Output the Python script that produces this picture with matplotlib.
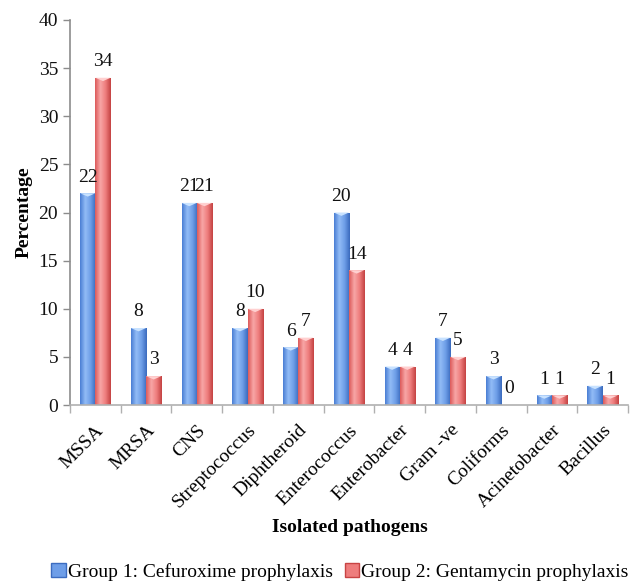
import numpy as np
import matplotlib
matplotlib.use("Agg")
import matplotlib.pyplot as plt
from matplotlib.patches import Rectangle, Polygon
from matplotlib.colors import LinearSegmentedColormap

categories = ["MSSA", "MRSA", "CNS", "Streptococcus", "Diphtheroid", "Enterococcus",
              "Enterobacter", "Gram -ve", "Coliforms", "Acinetobacter", "Bacillus"]
group1 = [22, 8, 21, 8, 6, 20, 4, 7, 3, 1, 2]
group2 = [34, 3, 21, 10, 7, 14, 4, 5, 0, 1, 1]
series_names = ["Group 1: Cefuroxime prophylaxis", "Group 2: Gentamycin prophylaxis"]

plt.rcParams['font.family'] = ['Liberation Serif', 'DejaVu Serif']

fig = plt.figure(figsize=(6.33, 5.81), dpi=100)
ax = fig.add_axes([70/633, 1-405/581, 558/633, 385/581])

blue_cmap = LinearSegmentedColormap.from_list("b", ["#4a7ed4", "#92bcf6", "#6e9ee8", "#3a6abd"])
red_cmap = LinearSegmentedColormap.from_list("r", ["#dc5a5a", "#f8a6a6", "#ee7d7d", "#c44242"])
grad = np.linspace(0, 1, 64).reshape(1, -1)

x = np.arange(len(categories))
w = 0.3
FS = 14

def draw_bars(xs, vals, cmap, top_col):
    for xi, v in zip(xs, vals):
        if v <= 0:
            continue
        left = xi - w/2
        rect = Rectangle((left, 0), w, v, facecolor='none', edgecolor='none')
        ax.add_patch(rect)
        im = ax.imshow(grad, cmap=cmap, aspect='auto', extent=(left, left+w, 0, v),
                       interpolation='bilinear', zorder=2)
        im.set_clip_path(rect)
        tri = Polygon([(left, v), (left+w, v), (xi, v-0.35)], closed=True,
                      facecolor=top_col, edgecolor='none', zorder=3)
        ax.add_patch(tri)

draw_bars(x - w/2, group1, blue_cmap, "#c8e2ff")
draw_bars(x + w/2, group2, red_cmap, "#ffd0d0")

for xi, v in zip(x - w/2, group1):
    ax.text(xi, v + 0.8, str(v), ha='center', va='bottom', fontsize=FS, color='#111111')
for xi, v in zip(x + w/2, group2):
    ax.text(xi, v + 0.8, str(v), ha='center', va='bottom', fontsize=FS, color='#111111')

ax.set_xlim(-0.5, len(categories) - 0.5)
ax.set_ylim(0, 40)
ax.set_yticks(range(0, 41, 5))
ax.tick_params(axis='y', labelsize=FS, colors='#8c8c8c', labelcolor='#111111', length=5, width=1)
ax.set_xticks(np.arange(-0.5, len(categories), 1.0), minor=False)
ax.set_xticklabels([])
ax.tick_params(axis='x', which='major', length=6, colors='#b0b0b0', width=1)
ax.set_xticks(x, minor=True)
ax.set_xticklabels(categories, minor=True, rotation=45, ha='right', rotation_mode='anchor', fontsize=FS)
ax.tick_params(axis='x', which='minor', length=0, pad=12)

for s in ['top', 'right']:
    ax.spines[s].set_visible(False)
ax.spines['left'].set_color('#8c8c8c')
ax.spines['bottom'].set_color('#b0b0b0')
ax.spines['left'].set_linewidth(1.2)
ax.spines['bottom'].set_linewidth(1.2)

ax.set_ylabel("Percentage", fontsize=FS, fontweight='bold', labelpad=4)
fig.text(350/633, 1-528/581, "Isolated pathogens", ha='center', va='center', fontsize=FS, fontweight='bold')

h1 = Rectangle((0, 0), 1, 1, facecolor="#6e9ee8", edgecolor="#3c6cc0")
h2 = Rectangle((0, 0), 1, 1, facecolor="#ee7d7d", edgecolor="#c84444")
fig.legend([h1, h2], series_names, loc='center', bbox_to_anchor=(340/633, 1-572/581),
           ncol=2, frameon=False, fontsize=14, handlelength=0.75, handleheight=0.75,
           handletextpad=0.1, columnspacing=0.6, borderpad=0.1, borderaxespad=0)

fig.savefig("out.png", dpi=100)
